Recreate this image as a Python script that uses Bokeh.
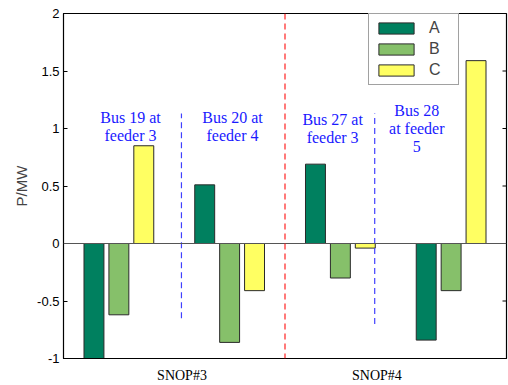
import math
from bokeh.plotting import figure
from bokeh.models import (ColumnDataSource, FixedTicker, Range1d, Span,
                          Legend, LegendItem)
from bokeh.core.properties import value
from bokeh.embed import file_html
from bokeh.resources import INLINE

# ---- data ----
groups = [1, 2, 3, 4]
series_names = ["A", "B", "C"]
vals_A = [-1.00, 0.51, 0.69, -0.84]
vals_B = [-0.62, -0.86, -0.30, -0.41]
vals_C = [0.85, -0.41, -0.04, 1.59]
y_ticks = [-1, -0.5, 0, 0.5, 1, 1.5, 2]
y_tick_labels = ["-1", "-0.5", "0", "0.5", "1", "1.5", "2"]
snop_labels = ["SNOP#3", "SNOP#4"]
notes = ["Bus 19 at\nfeeder 3", "Bus 20 at\nfeeder 4", "Bus 27 at\nfeeder 3", "Bus 28\nat feeder\n5"]

colors = ["#00805f", "#86c06a", "#ffff62"]

p = figure(width=508, height=385, output_backend="svg", toolbar_location=None,
           x_range=Range1d(0.5, 4.5), y_range=Range1d(-1, 2),
           min_border_left=63, min_border_right=2, min_border_top=13, min_border_bottom=27)
p.grid.visible = False
p.outline_line_color = "black"
p.outline_line_width = 1.2
p.background_fill_color = "white"
p.border_fill_color = "white"

# zero baseline
p.add_layout(Span(location=0, dimension="width", line_color="#555555", line_width=1))

offsets = [-0.225, 0.0, 0.225]
renderers = []
for name, vals, off, col in zip(series_names, [vals_A, vals_B, vals_C], offsets, colors):
    src = ColumnDataSource(dict(x=[g + off for g in groups], top=vals))
    r = p.vbar(x="x", top="top", bottom=0, width=0.18, source=src,
               fill_color=col, line_color="#2a2a2a", line_width=1)
    renderers.append(r)

# separators
p.add_layout(Span(location=2.5, dimension="height", line_color="#ff2020",
                  line_dash="6 4", line_width=1.2))
blue_x = [1.565, 3.31]
blue_bottom = [-0.65, -0.70]
for bx, bb in zip(blue_x, blue_bottom):
    p.segment(x0=[bx], y0=[bb], x1=[bx], y1=[1.13], line_color="#4040ff",
              line_dash="6 4", line_width=1.2)

# annotation texts
note_pos = [(1.105, 1.02), (2.026, 1.02), (2.93, 1.0), (3.69, 1.0)]
line_step = 0.155
for txt, (nx, ny) in zip(notes, note_pos):
    lines = txt.split("\n")
    n = len(lines)
    ys = [ny + (n - 1) / 2 * line_step - i * line_step for i in range(n)]
    p.text(x=[nx] * n, y=ys, text=lines, text_font=value("Liberation Serif"),
           text_font_size="16px", text_color="#1a1aff", text_align="center",
           text_baseline="middle")

# right-side inward ticks (matlab box)
p.ray(x=[4.5] * len(y_ticks), y=y_ticks, length=4, length_units="screen",
      angle=math.pi, line_color="black", line_width=1)

# y axis
ya = p.yaxis[0]
ya.ticker = FixedTicker(ticks=y_ticks)
ya.major_label_overrides = {t: l for t, l in zip(y_ticks, y_tick_labels)}
ya.major_tick_in = 4
ya.major_tick_out = 0
ya.minor_tick_line_color = None
ya.major_label_standoff = 4
ya.major_label_text_font = "Liberation Sans"
ya.major_label_text_font_size = "13px"
ya.major_label_text_color = "black"
ya.axis_label = "P/MW"
ya.axis_label_text_font = "Liberation Sans"
ya.axis_label_text_font_size = "15px"
ya.axis_label_text_font_style = "normal"
ya.axis_label_standoff = 4
ya.axis_line_color = "black"

# x axis
xa = p.xaxis[0]
snop_pos = [1.57, 3.33]
xa.ticker = FixedTicker(ticks=snop_pos)
xa.major_label_overrides = {t: l for t, l in zip(snop_pos, snop_labels)}
xa.major_tick_in = 0
xa.major_tick_out = 0
xa.minor_tick_line_color = None
xa.major_label_standoff = 9
xa.major_label_text_font = "Liberation Serif"
xa.major_label_text_font_size = "14px"
xa.major_label_text_color = "black"
xa.axis_line_color = "black"

legend = Legend(items=[LegendItem(label=n, renderers=[r]) for n, r in zip(series_names, renderers)],
                location=(305, 273), glyph_width=44, glyph_height=14, label_height=17,
                label_width=24, label_standoff=11, padding=5, spacing=3, margin=0,
                label_text_font="Liberation Sans", label_text_font_size="16px",
                border_line_color="#444444", border_line_width=1,
                background_fill_alpha=1.0)
p.add_layout(legend, "center")

open("out.html", "w").write(file_html(p, INLINE))
